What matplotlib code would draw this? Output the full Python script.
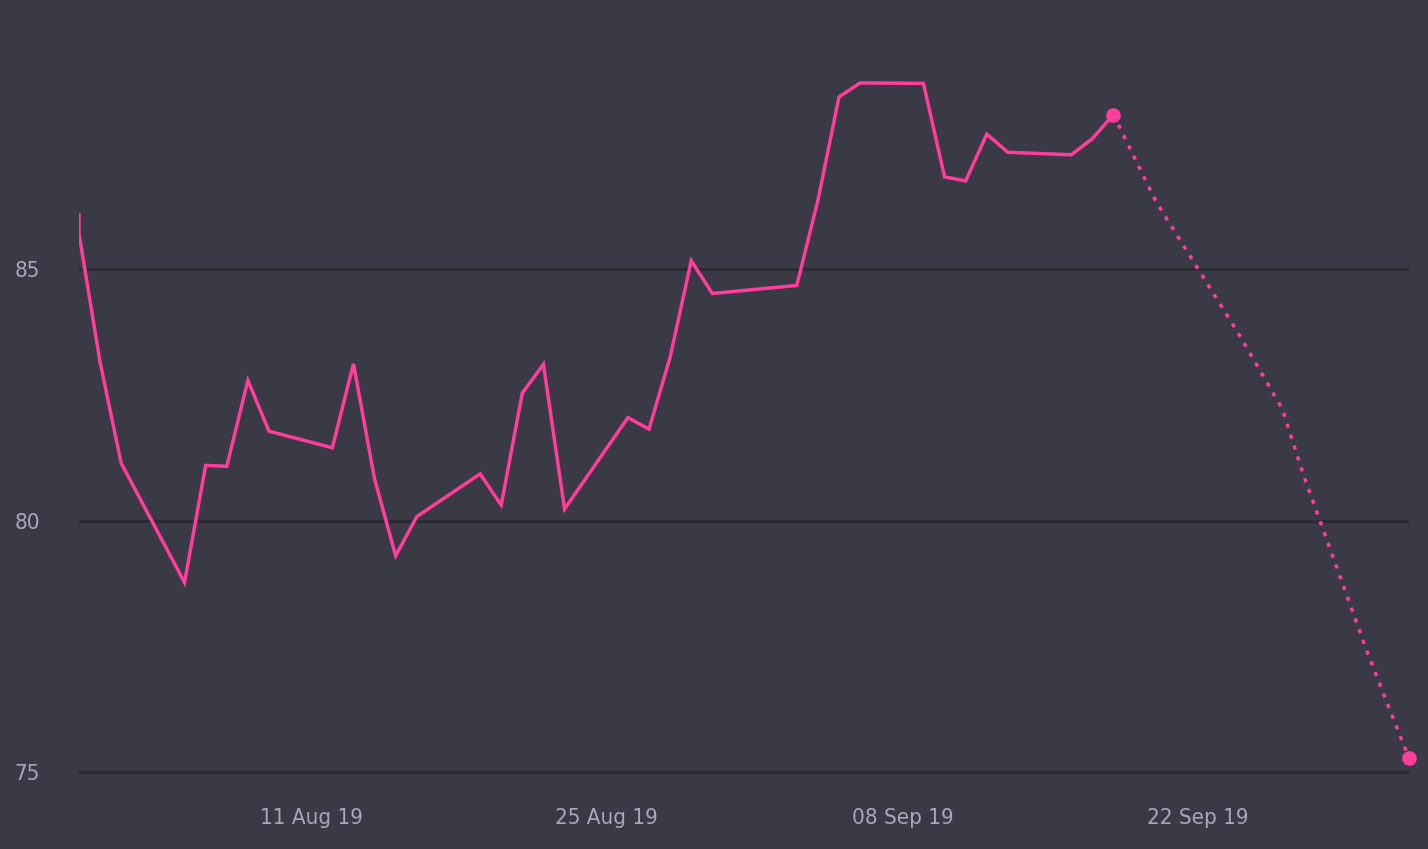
import matplotlib
matplotlib.use("Agg")
from matplotlib import pyplot as plt
import matplotlib.dates as mdates
import pandas as pd

# actual series (business days)
dates = [
    "2019-07-31", "2019-07-31", "2019-08-01", "2019-08-02", "2019-08-05",
    "2019-08-06", "2019-08-07", "2019-08-08", "2019-08-09", "2019-08-12",
    "2019-08-13", "2019-08-14", "2019-08-15", "2019-08-16", "2019-08-19",
    "2019-08-20", "2019-08-21", "2019-08-22", "2019-08-23", "2019-08-26",
    "2019-08-27", "2019-08-28", "2019-08-29", "2019-08-30", "2019-09-03",
    "2019-09-04", "2019-09-05", "2019-09-06", "2019-09-09", "2019-09-10",
    "2019-09-11", "2019-09-12", "2019-09-13", "2019-09-16", "2019-09-17",
    "2019-09-18",
]
values = [
    86.08, 85.71, 83.15, 81.14, 78.77,
    81.10, 81.08, 82.79, 81.78, 81.45,
    83.12, 80.83, 79.30, 80.08, 80.93,
    80.31, 82.54, 83.11, 80.23, 82.05,
    81.82, 83.25, 85.17, 84.52, 84.68,
    86.37, 88.43, 88.71, 88.70, 86.84,
    86.76, 87.69, 87.33, 87.28, 87.60,
    88.08,
]

# forecast series
fc_dates = [
    "2019-09-18", "2019-09-20", "2019-09-24", "2019-09-26",
    "2019-09-27", "2019-09-30", "2019-10-01", "2019-10-02",
]
fc_values = [88.08, 86.36, 83.67, 82.22, 80.91, 77.41, 76.33, 75.27]

tick_dates = ["2019-08-11", "2019-08-25", "2019-09-08", "2019-09-22"]
y_ticks = [75, 80, 85]

bg = "#3a3946"
pink = "#ff3d9b"
grid_col = "#2a2a33"
text_col = "#a9a7b9"

plt.rcParams["font.family"] = ["DejaVu Sans"]
plt.rcParams["font.stretch"] = "condensed"

x = pd.to_datetime(dates)
fx = pd.to_datetime(fc_dates)

fig = plt.figure(figsize=(14.28, 8.49), dpi=100, facecolor=bg)
ax = fig.add_axes([79 / 1428, 59 / 849, 1330 / 1428, 790 / 849])
ax.set_facecolor(bg)

ax.plot(x, values, color=pink, linewidth=2.5, solid_joinstyle="miter", zorder=3)
ax.plot(fx, fc_values, color=pink, linewidth=2.5, linestyle=(0, (1.2, 2.1)),
        dash_capstyle="butt", zorder=3)
ax.plot([fx[0], fx[-1]], [fc_values[0], fc_values[-1]], linestyle="none",
        marker="o", markersize=9.5, color=pink, zorder=4, clip_on=False)

ax.set_xlim(pd.Timestamp("2019-07-31"), pd.Timestamp("2019-10-02"))
ax.set_ylim(74.64, 90.36)

ax.set_yticks(y_ticks)
ax.set_xticks(pd.to_datetime(tick_dates))
ax.xaxis.set_major_formatter(mdates.DateFormatter("%d %b %y"))

ax.grid(axis="y", color=grid_col, linewidth=2)
ax.grid(axis="x", visible=False)
ax.set_axisbelow(True)
for s in ax.spines.values():
    s.set_visible(False)

ax.tick_params(axis="both", length=0, labelsize=16, colors=text_col)
ax.tick_params(axis="y", pad=28)
ax.tick_params(axis="x", pad=13)

fig.savefig("out.png", dpi=100, facecolor=bg)
